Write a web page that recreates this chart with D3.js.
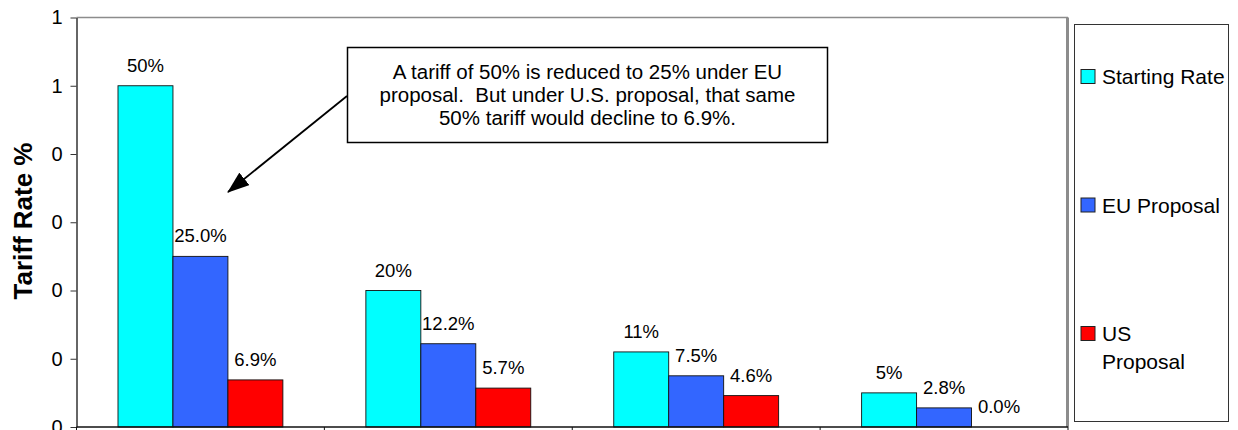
<!DOCTYPE html>
<html>
<head>
<meta charset="utf-8">
<script src="https://cdn.jsdelivr.net/npm/d3@7"></script>
<style>
  body { margin: 0; background: #fff; overflow: hidden; }
  svg { display: block; font-family: "Liberation Sans", Arial, sans-serif; }
</style>
</head>
<body>
<svg width="1238" height="430"></svg>
<script>
// data
const categories = ['50% tariff', '20% tariff', '11% tariff', '5% tariff'];
const series = ['Starting Rate', 'EU Proposal', 'US Proposal'];
const startingRate = [0.50, 0.20, 0.11, 0.05];
const euProposal = [0.25, 0.122, 0.075, 0.028];
const usProposal = [0.069, 0.057, 0.046, 0.0];
const yTicks = [0, 0.1, 0.2, 0.3, 0.4, 0.5, 0.6];
const legendLines = [['Starting Rate'], ['EU Proposal'], ['US', 'Proposal']];
const noteLines = [
  'A tariff of 50% is reduced to 25% under EU',
  'proposal.  But under U.S. proposal, that same',
  '50% tariff would decline to 6.9%.',
];

const colors = ['#00ffff', '#3366ff', '#ff0000'];
const labelFormats = [d3.format('.0%'), d3.format('.1%'), d3.format('.1%')];
const seriesValues = [startingRate, euProposal, usProposal];

const rows = categories.map((cat, i) => ({
  cat,
  values: series.map((s, j) => ({ s, j, v: seriesValues[j][i] })),
}));

const plot = { left: 76.5, right: 1068, top: 17.5, bottom: 427 };

const svg = d3.select('svg');

const x0 = d3.scaleBand()
  .domain(categories)
  .range([plot.left, plot.right]);

const x1 = d3.scaleBand()
  .domain(series)
  .range([0, x0.bandwidth()])
  .paddingOuter(0.755);

const y = d3.scaleLinear()
  .domain([0, 0.6])
  .range([plot.bottom, plot.top]);

// plot frame (gray top and right edge)
svg.append('line')
  .attr('x1', plot.left).attr('x2', plot.right)
  .attr('y1', plot.top).attr('y2', plot.top)
  .attr('stroke', '#8c8c8c').attr('stroke-width', 1.5);
svg.append('line')
  .attr('x1', plot.right - 0.5).attr('x2', plot.right - 0.5)
  .attr('y1', plot.top).attr('y2', plot.bottom)
  .attr('stroke', '#8c8c8c').attr('stroke-width', 3);

// bars
const groups = svg.append('g')
  .selectAll('g')
  .data(rows)
  .enter()
  .append('g')
  .attr('transform', (d) => `translate(${x0(d.cat)},0)`);

groups.selectAll('rect')
  .data((d) => d.values)
  .enter()
  .append('rect')
  .attr('x', (d) => x1(d.s))
  .attr('y', (d) => y(d.v))
  .attr('width', x1.bandwidth())
  .attr('height', (d) => y(0) - y(d.v))
  .attr('fill', (d) => colors[d.j])
  .attr('stroke', '#111')
  .attr('stroke-width', 0.9);

groups.selectAll('text')
  .data((d) => d.values)
  .enter()
  .append('text')
  .attr('x', (d) => x1(d.s) + x1.bandwidth() / 2)
  .attr('y', (d) => y(d.v) - 14)
  .attr('text-anchor', 'middle')
  .attr('font-size', 18.5)
  .attr('fill', '#000')
  .text((d) => labelFormats[d.j](d.v));

// y axis
const yAxis = svg.append('g')
  .attr('transform', `translate(${plot.left},0)`)
  .call(d3.axisLeft(y)
    .tickValues(yTicks)
    .tickFormat((d) => Math.round(d))
    .tickSize(6)
    .tickSizeOuter(0)
    .tickPadding(8));
yAxis.select('.domain').attr('stroke', '#333').attr('stroke-width', 1.5);
yAxis.selectAll('.tick line').attr('stroke', '#333');
yAxis.selectAll('.tick text')
  .attr('font-size', 20)
  .attr('font-family', '"Liberation Sans", Arial, sans-serif')
  .attr('fill', '#000');

// category axis (no labels, ticks between groups)
const xAxis = svg.append('g')
  .attr('transform', `translate(0,${plot.bottom})`);
xAxis.append('line')
  .attr('x1', plot.left).attr('x2', plot.right)
  .attr('stroke', '#111').attr('stroke-width', 1.5);
xAxis.selectAll('.cat-tick')
  .data(categories.map((c) => x0(c)).concat([plot.right]))
  .enter()
  .append('line')
  .attr('class', 'cat-tick')
  .attr('x1', (d) => d).attr('x2', (d) => d)
  .attr('y1', 0).attr('y2', 6)
  .attr('stroke', '#111');

// y axis title
svg.append('text')
  .attr('transform', 'translate(32,221) rotate(-90)')
  .attr('text-anchor', 'middle')
  .attr('font-size', 26)
  .attr('font-weight', 'bold')
  .attr('fill', '#000')
  .text('Tariff Rate %');

// legend
const legend = svg.append('g');
legend.append('rect')
  .attr('x', 1074.5).attr('y', 24.5)
  .attr('width', 154).attr('height', 397)
  .attr('fill', '#fff')
  .attr('stroke', '#333').attr('stroke-width', 1);

const items = legend.selectAll('g')
  .data(series)
  .enter()
  .append('g')
  .attr('transform', (d, i) => `translate(1081,${76.5 + i * 128.5})`);

items.append('rect')
  .attr('x', 0).attr('y', -7)
  .attr('width', 14).attr('height', 14)
  .attr('fill', (d, i) => colors[i])
  .attr('stroke', '#222');

items.append('text')
  .attr('x', 21)
  .attr('y', 7.5)
  .attr('font-size', 21)
  .attr('fill', '#000')
  .selectAll('tspan')
  .data((d, i) => legendLines[i])
  .enter()
  .append('tspan')
  .attr('x', 21)
  .attr('dy', (d, k) => (k === 0 ? 0 : 27.5))
  .text((d) => d);

// annotation with arrow
svg.append('defs')
  .append('marker')
  .attr('id', 'head')
  .attr('markerUnits', 'userSpaceOnUse')
  .attr('markerWidth', 22).attr('markerHeight', 16)
  .attr('refX', 21).attr('refY', 8)
  .attr('orient', 'auto')
  .append('path')
  .attr('d', 'M0,0 L22,8 L0,16 Z')
  .attr('fill', '#000');

svg.append('line')
  .attr('x1', 347).attr('y1', 96)
  .attr('x2', 228).attr('y2', 192)
  .attr('stroke', '#000').attr('stroke-width', 1.8)
  .attr('marker-end', 'url(#head)');

svg.append('rect')
  .attr('x', 347.5).attr('y', 47.5)
  .attr('width', 480).attr('height', 95)
  .attr('fill', '#fff')
  .attr('stroke', '#000').attr('stroke-width', 1.5);

svg.append('text')
  .attr('text-anchor', 'middle')
  .attr('font-size', 20.5)
  .attr('fill', '#000')
  .style('white-space', 'pre')
  .selectAll('tspan')
  .data(noteLines)
  .enter()
  .append('tspan')
  .attr('x', 587.5)
  .attr('y', (d, i) => 79 + i * 23)
  .text((d) => d);
</script>
</body>
</html>
